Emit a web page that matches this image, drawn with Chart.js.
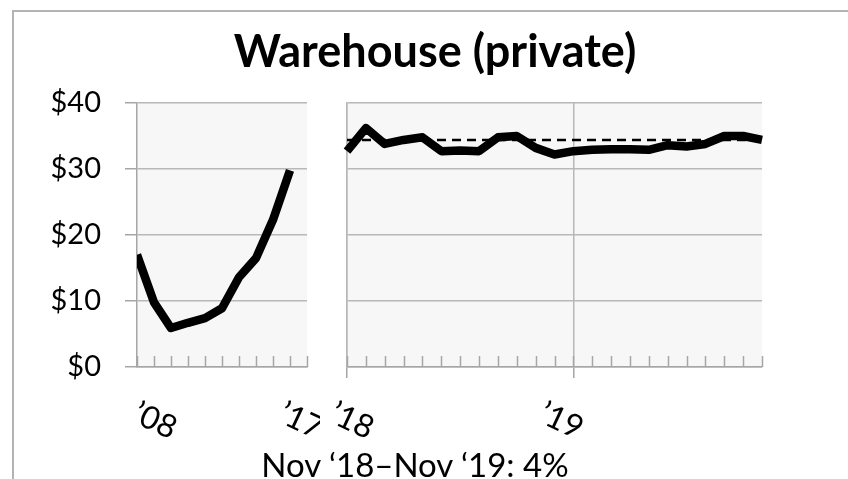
<!DOCTYPE html>
<html>
<head>
<meta charset="utf-8">
<script src="https://cdn.jsdelivr.net/npm/chart.js@4.4.1/dist/chart.umd.min.js"></script>
<style>
  html, body { margin: 0; padding: 0; background: #fff; }
  #frame { position: relative; width: 848px; height: 479px; overflow: hidden; font-family: Lato, "Open Sans", sans-serif; }
  #border { position: absolute; left: 12px; top: 10px; width: 840px; height: 480px; border-left: 2px solid #b3b3b3; border-top: 2px solid #b3b3b3; }
  #title { position: absolute; left: 0; top: 28px; width: 870px; text-align: center; font-weight: bold; font-size: 45px; line-height: 45px; color: #000; white-space: nowrap; }
  #note { position: absolute; left: 0; top: 448px; width: 830px; text-align: center; font-size: 33px; line-height: 33px; color: #000; white-space: nowrap; }
  #left { position: absolute; left: 0; top: 0; }
  #right { position: absolute; left: 320px; top: 0; }
</style>
</head>
<body>
<div id="frame">
  <div id="border"></div>
  <canvas id="left" width="320" height="479"></canvas>
  <canvas id="right" width="528" height="479"></canvas>
  <div id="title">Warehouse (private)</div>
  <div id="note">Nov ‘18–Nov ‘19: 4%</div>
</div>
<script>
/* --------------- Data --------------------- */
const years = [2008, 2009, 2010, 2011, 2012, 2013, 2014, 2015, 2016, 2017];
const yearValues = [17.0, 9.8, 5.9, 6.7, 7.4, 8.9, 13.6, 16.5, 22.3, 29.8];

const months = [
  "Jan 2018", "Feb 2018", "Mar 2018", "Apr 2018", "May 2018", "Jun 2018",
  "Jul 2018", "Aug 2018", "Sep 2018", "Oct 2018", "Nov 2018", "Dec 2018",
  "Jan 2019", "Feb 2019", "Mar 2019", "Apr 2019", "May 2019", "Jun 2019",
  "Jul 2019", "Aug 2019", "Sep 2019", "Oct 2019", "Nov 2019",
];
const monthValues = [
  32.7, 36.2, 33.8, 34.4, 34.8, 32.7, 32.8, 32.7, 34.8, 35.0, 33.2, 32.2,
  32.7, 32.9, 33.0, 33.0, 32.9, 33.6, 33.4, 33.8, 35.0, 35.0, 34.4,
];
const referenceLevel = 34.4; // Nov '19 level, dashed

const yTicks = [0, 10, 20, 30, 40];
const leftTickLabels = [{ value: 2008, text: "’08", dx: 18 }, { value: 2017, text: "’17", dx: 11 }];
const rightTickLabels = [{ value: 0, text: "’18", dx: 5 }, { value: 12, text: "’19", dx: -12 }];

/* --------------- Styles --------------------- */
const gridColor = "#b8b8b8";
const axisColor = "#a6a6a6";
const labelFont = { family: "Lato", size: 29 };

/* --------------- Plugins --------------------- */
// light grey plot area
const plotBg = {
  id: "plotBg",
  beforeDraw(chart) {
    const { ctx, chartArea: a } = chart;
    ctx.save();
    ctx.fillStyle = "#f7f7f7";
    ctx.fillRect(a.left, a.top, a.right - a.left, a.bottom - a.top);
    ctx.restore();
  },
};

// small tick marks pointing up into the plot
const innerTicks = {
  id: "innerTicks",
  beforeDatasetsDraw(chart) {
    const { ctx, chartArea: a } = chart;
    const xs = chart.scales.x;
    ctx.save();
    ctx.strokeStyle = axisColor;
    ctx.lineWidth = 1.5;
    xs.ticks.forEach((t) => {
      const px = Math.round(xs.getPixelForValue(t.value)) + 0.5;
      ctx.beginPath();
      ctx.moveTo(px, a.bottom);
      ctx.lineTo(px, a.bottom - 11);
      ctx.stroke();
    });
    ctx.restore();
  },
};

// slanted year labels under the axis
const yearLabels = {
  id: "yearLabels",
  afterDraw(chart, args, opts) {
    const { ctx } = chart;
    const xs = chart.scales.x;
    ctx.save();
    ctx.fillStyle = "#000";
    ctx.font = "32px Lato";
    ctx.textAlign = "center";
    ctx.textBaseline = "middle";
    (opts.items || []).forEach((it) => {
      ctx.save();
      ctx.translate(xs.getPixelForValue(it.value) + it.dx, 421);
      ctx.rotate((25 * Math.PI) / 180);
      ctx.fillText(it.text, 0, 0);
      ctx.restore();
    });
    ctx.restore();
  },
};

/* --------------- Left panel: 2008-2017 --------------------- */
new Chart(document.getElementById("left"), {
  type: "line",
  data: {
    datasets: [
      {
        data: years.map((y, i) => ({ x: y, y: yearValues[i] })),
        borderColor: "#000",
        borderWidth: 8.5,
        borderJoinStyle: "round",
        pointRadius: 0,
        tension: 0,
      },
    ],
  },
  options: {
    responsive: false,
    animation: false,
    layout: { padding: { left: 0, right: 13, top: 103, bottom: 92 } },
    plugins: {
      legend: { display: false },
      tooltip: { enabled: false },
      yearLabels: { items: leftTickLabels },
    },
    scales: {
      x: {
        type: "linear",
        min: 2008,
        max: 2018,
        ticks: { display: false, stepSize: 1 },
        grid: { display: false },
        border: { display: true, color: axisColor, width: 1.5 },
        afterFit: (s) => { s.height = 20; },
      },
      y: {
        min: 0,
        max: 40,
        afterBuildTicks: (s) => { s.ticks = yTicks.map((v) => ({ value: v })); },
        ticks: {
          callback: (v) => "$" + v,
          color: "#000",
          font: labelFont,
          padding: 24,
        },
        grid: { color: gridColor, tickColor: axisColor, tickLength: 12, lineWidth: 1.5 },
        border: { color: axisColor, width: 1.5 },
        afterFit: (s) => { s.width = 137; },
      },
    },
  },
  plugins: [plotBg, innerTicks, yearLabels],
});

/* --------------- Right panel: monthly 2018-2019 --------------------- */
new Chart(document.getElementById("right"), {
  type: "line",
  data: {
    labels: months,
    datasets: [
      {
        data: monthValues,
        borderColor: "#000",
        borderWidth: 8.5,
        borderJoinStyle: "round",
        pointRadius: 0,
        tension: 0,
      },
      {
        data: [
          { x: months[0], y: referenceLevel },
          { x: months[months.length - 1], y: referenceLevel },
        ],
        borderColor: "#000",
        borderWidth: 2.5,
        borderDash: [9, 6],
        pointRadius: 0,
        order: 1,
      },
    ],
  },
  options: {
    responsive: false,
    animation: false,
    layout: { padding: { left: 0, right: 86, top: 103, bottom: 92 } },
    plugins: {
      legend: { display: false },
      tooltip: { enabled: false },
      yearLabels: { items: rightTickLabels },
    },
    scales: {
      x: {
        offset: false,
        ticks: { display: false, autoSkip: false },
        grid: {
          color: (c) => (c.index === 0 || c.index === 12 ? gridColor : "transparent"),
          tickColor: (c) => (c.index === 0 || c.index === 12 ? axisColor : "transparent"),
          tickLength: 11,
          lineWidth: 1.5,
        },
        border: { color: axisColor, width: 1.5 },
        afterFit: (s) => { s.height = 20; },
      },
      y: {
        min: 0,
        max: 40,
        afterBuildTicks: (s) => { s.ticks = yTicks.map((v) => ({ value: v })); },
        ticks: { display: false },
        grid: { color: gridColor, drawTicks: false, lineWidth: 1.5 },
        border: { color: gridColor, width: 1.5 },
        afterFit: (s) => { s.width = 27; },
      },
    },
  },
  plugins: [plotBg, innerTicks, yearLabels],
});
</script>
</body>
</html>
